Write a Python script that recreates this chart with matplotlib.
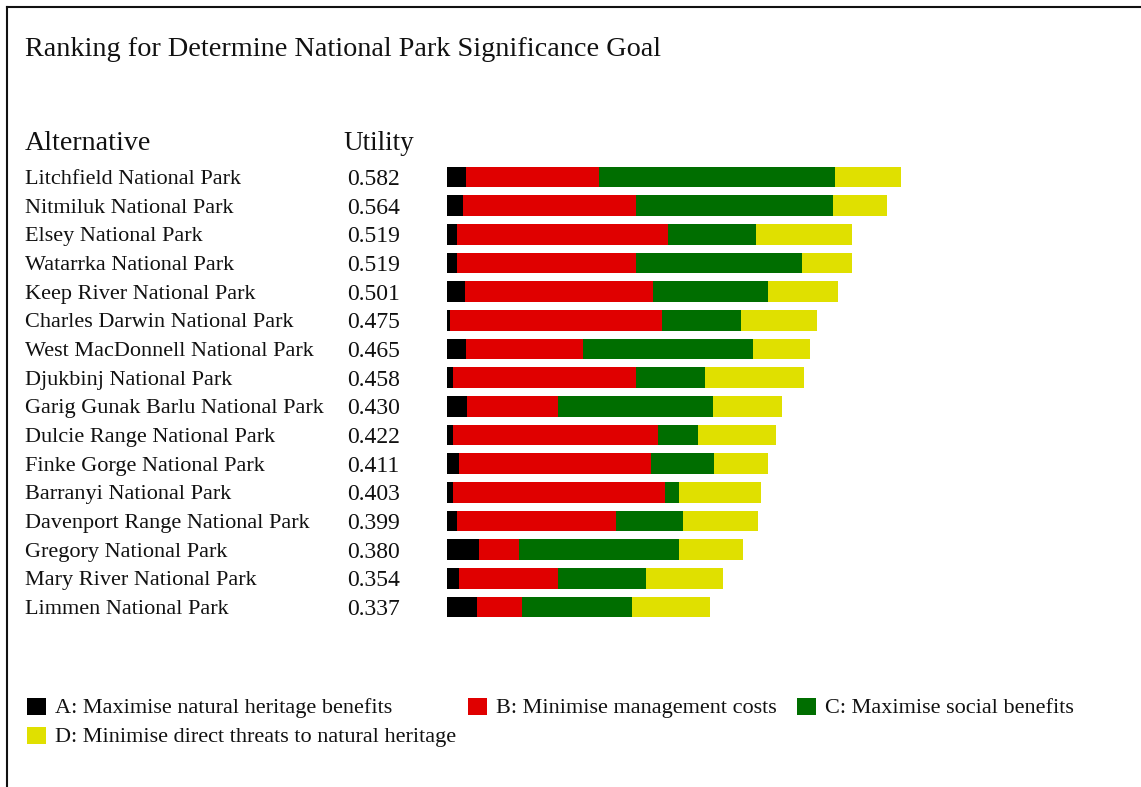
import numpy as np
import matplotlib.pyplot as plt
from matplotlib.patches import Rectangle
from matplotlib.lines import Line2D
from matplotlib.transforms import blended_transform_factory

parks = ["Litchfield National Park", "Nitmiluk National Park",
         "Elsey National Park", "Watarrka National Park",
         "Keep River National Park", "Charles Darwin National Park",
         "West MacDonnell National Park", "Djukbinj National Park",
         "Garig Gunak Barlu National Park", "Dulcie Range National Park",
         "Finke Gorge National Park", "Barranyi National Park",
         "Davenport Range National Park", "Gregory National Park",
         "Mary River National Park", "Limmen National Park"]
utility = [0.582, 0.564, 0.519, 0.519, 0.501, 0.475, 0.465, 0.458,
           0.430, 0.422, 0.411, 0.403, 0.399, 0.380, 0.354, 0.337]

# contribution of each goal to the utility
goal_a = [0.025, 0.021, 0.013, 0.013, 0.023, 0.004, 0.025, 0.008,
          0.026, 0.008, 0.016, 0.008, 0.013, 0.042, 0.016, 0.039]
goal_b = [0.170, 0.222, 0.270, 0.229, 0.241, 0.272, 0.149, 0.234,
          0.116, 0.263, 0.246, 0.272, 0.204, 0.050, 0.126, 0.058]
goal_c = [0.302, 0.252, 0.113, 0.213, 0.147, 0.101, 0.218, 0.089,
          0.199, 0.051, 0.080, 0.018, 0.086, 0.206, 0.113, 0.140]
goal_d = [0.085, 0.069, 0.123, 0.064, 0.090, 0.098, 0.073, 0.127,
          0.089, 0.100, 0.069, 0.105, 0.096, 0.082, 0.099, 0.100]

goal_names = ["A: Maximise natural heritage benefits",
              "B: Minimise management costs",
              "C: Maximise social benefits",
              "D: Minimise direct threats to natural heritage"]
goal_colors = ["#000000", "#e00000", "#006e00", "#e0e000"]

W, H = 1141, 787
plt.rcParams['font.family'] = ['Liberation Serif', 'DejaVu Serif']

fig = plt.figure(figsize=(W / 100, H / 100), dpi=100)
fig.patch.set_facecolor('white')

def fx(x):
    return x / W

def fy(y):
    return 1 - y / H

# bar area: utility 0 sits at x=447, rows 177..607
x0, x1 = 446.7, W
top, bot = 162.7, 621.3
ax = fig.add_axes([fx(x0), fy(bot), fx(x1) - fx(x0), (bot - top) / H])
ax.set_xlim(0, (x1 - x0) / 780.6)
ax.set_ylim(len(parks) - 0.5, -0.5)
ax.axis('off')

rows = np.arange(len(parks))
left = np.zeros(len(parks))
for vals, col in zip([goal_a, goal_b, goal_c, goal_d], goal_colors):
    ax.barh(rows, vals, left=left, height=0.72, color=col, linewidth=0)
    left += np.array(vals)

# park names and utility values
trans = blended_transform_factory(fig.transFigure, ax.transData)
for i, (name, u) in enumerate(zip(parks, utility)):
    ax.text(fx(25), i, name, transform=trans, fontsize=16,
            va='center_baseline', ha='left', color='#111111')
    ax.text(fx(347), i, f"{u:.3f}", transform=trans, fontsize=17,
            va='center_baseline', ha='left', color='#111111')

fig.text(fx(25), fy(47), "Ranking for Determine National Park Significance Goal",
         fontsize=20.3, va='center_baseline', ha='left', color='#111111')
fig.text(fx(25), fy(141), "Alternative", fontsize=20.2,
         va='center_baseline', ha='left', color='#111111')
fig.text(fx(343), fy(141), "Utility", fontsize=19.5,
         va='center_baseline', ha='left', color='#111111')

# legend laid out in two rows
legend_pos = [(27, 706), (468, 706), (797, 706), (27, 735)]
for (lx, ly), name, col in zip(legend_pos, goal_names, goal_colors):
    fig.patches.append(Rectangle((fx(lx), fy(ly + 8.5)), 19 / W, 17 / H,
                                 transform=fig.transFigure, color=col,
                                 linewidth=0))
    fig.text(fx(lx + 28), fy(ly), name, fontsize=16,
             va='center_baseline', ha='left', color='#111111')

# frame on the left and top edges
fig.lines.append(Line2D([fx(7), fx(7)], [0, fy(7)], transform=fig.transFigure,
                        color='#111111', linewidth=1.5))
fig.lines.append(Line2D([fx(7), 1], [fy(7), fy(7)], transform=fig.transFigure,
                        color='#111111', linewidth=1.5))

fig.savefig('out.png', dpi=100)
